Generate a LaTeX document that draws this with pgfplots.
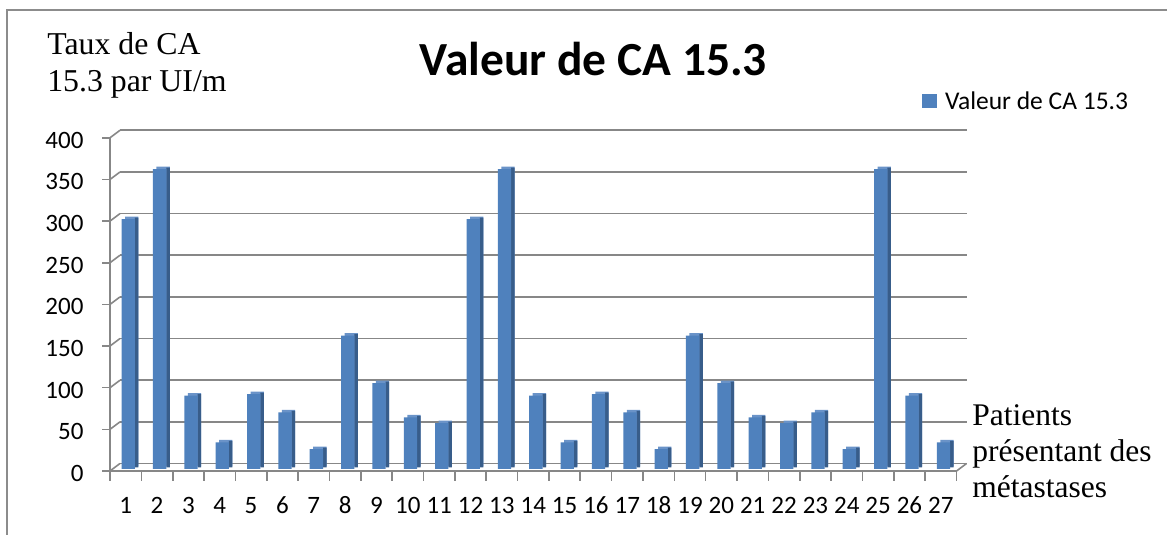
\documentclass[border=0pt]{standalone}
\usepackage{pgfplots}
\pgfplotsset{compat=1.18}
\usepackage{pgfplotstable}
\usepackage{fontspec}
\setmainfont{Carlito}
\newfontfamily\tnr{Liberation Serif}
\newcommand\tickfont{\fontsize{25}{30}\selectfont}
\definecolor{barfront}{HTML}{4F81BD}
\definecolor{barside}{HTML}{385D8A}
\definecolor{bartop}{HTML}{6A93C8}
\definecolor{gridc}{HTML}{878787}
\definecolor{framec}{HTML}{8C8C8C}

\pgfplotstableread{
x y
1 300
2 360
3 88
4 32
5 90
6 68
7 24
8 160
9 103
10 62
11 55
12 300
13 360
14 88
15 32
16 90
17 68
18 24
19 160
20 103
21 62
22 55
23 68
24 24
25 360
26 88
27 32
}\datatable

\begin{document}
\begin{tikzpicture}[x=1pt,y=1pt]
\useasboundingbox (0,0) rectangle (1167,535);
\draw[framec, line width=1.5pt] (7,0) -- (7,525) -- (1167,525);
\begin{axis}[
  at={(115pt,66pt)}, anchor=south west,
  scale only axis, width=846.5pt, height=333.2pt,
  xmin=0.5, xmax=27.5, ymin=0, ymax=400,
  clip=false,
  axis line style={draw=none},
  major tick length=0pt,
  xtick={1,2,...,27},
  xticklabels={1,2,3,4,5,6,7,8,9,10,11,12,13,14,15,16,17,18,19,20,21,22,23,24,25,26,27},
  ytick={0,50,100,150,200,250,300,350,400},
  yticklabels={},
  xticklabel style={font=\tickfont, inner sep=0pt, anchor=base, yshift=-45pt, xshift=-5pt},
  ybar, bar width=13.3pt,
  title={Valeur de CA 15.3},
  every axis title/.style={at={(axis description cs:0.565,1.1795)}, anchor=base,
    inner sep=0pt, font=\fontsize{47.5}{57}\selectfont\bfseries},
  ylabel={Taux de CA\\15.3 par UI/m},
  every axis y label/.style={at={(axis description cs:-0.0802,1.1315)}, anchor=base west,
    align=left, inner sep=0pt, font=\tnr\fontsize{31.8}{37}\selectfont},
  xlabel={Patients\\présentant des\\métastases},
  every axis x label/.style={at={(axis description cs:1.01264,-0.08703)}, anchor=base west,
    align=left, inner sep=0pt, font=\tnr\fontsize{31.5}{36.2}\selectfont},
  legend style={at={(axis description cs:0.953,1.1044)}, anchor=west,
    draw=none, fill=none, inner sep=0pt, outer sep=0pt,
    font=\fontsize{25.5}{30}\selectfont, nodes={inner sep=0pt}},
  legend image code/.code={\fill[barfront] (0pt,-7.2pt) rectangle (15pt,7.2pt); \path (23.3pt,0pt);},
]
% back wall gridlines, left wall, y tick labels
\pgfplotsinvokeforeach{0,50,100,150,200,250,300,350,400}{
  \draw[gridc, line width=1.6pt] ([shift={(5pt,5.5pt)}]axis cs:0.5,#1) -- ([shift={(5pt,5.5pt)}]axis cs:27.5,#1);
  \draw[gridc, line width=1.6pt] ([shift={(-5pt,-2pt)}]axis cs:0.5,#1) -- ([shift={(5pt,5.5pt)}]axis cs:0.5,#1);
  \draw[gridc, line width=1.6pt] ([shift={(-13pt,-2pt)}]axis cs:0.5,#1) -- ([shift={(-5pt,-2pt)}]axis cs:0.5,#1);
  \node[anchor=east, inner sep=0pt, outer sep=0pt, font=\tickfont] at ([shift={(-31.5pt,-4.5pt)}]axis cs:0.5,#1) {#1};
}
\draw[gridc, line width=1.6pt] ([shift={(-5pt,-2pt)}]axis cs:0.5,0) -- ([shift={(-5pt,-2pt)}]axis cs:0.5,400);
\draw[gridc, line width=1.6pt] ([shift={(-5pt,-2pt)}]axis cs:0.5,0) -- ([shift={(-5pt,-2pt)}]axis cs:27.5,0) -- ([shift={(5pt,5.5pt)}]axis cs:27.5,0);
\pgfplotsinvokeforeach{0.5,1.5,...,27.5}{
  \draw[gridc, line width=1.6pt] ([shift={(-5pt,-2pt)}]axis cs:#1,0) -- ([shift={(-5pt,-12pt)}]axis cs:#1,0);
}
\addplot[forget plot, fill=bartop, draw=none, bar shift=1.1pt, yshift=2.5pt] table[x=x,y=y] {\datatable};
\addplot[forget plot, fill=barside, draw=none, bar width=3.5pt, bar shift=6.0pt, yshift=1.5pt] table[x=x,y=y] {\datatable};
\addplot[fill=barfront, draw=none, bar shift=-2.4pt] table[x=x,y=y] {\datatable};
\addlegendentry{Valeur de CA 15.3}
\end{axis}
\end{tikzpicture}
\end{document}
